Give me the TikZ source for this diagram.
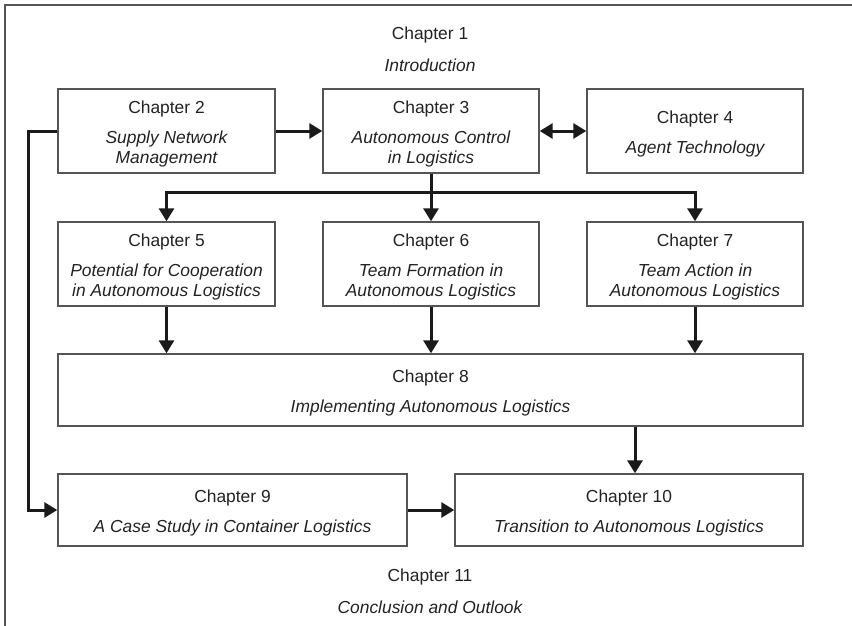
\documentclass[tikz,border=0pt]{standalone}
\usepackage{fontspec}
\setmainfont{Liberation Sans}
\usetikzlibrary{arrows.meta}
\definecolor{ink}{HTML}{222222}
\definecolor{rim}{HTML}{555555}
\definecolor{wire}{HTML}{1A1A1A}
\tikzset{
  chbox/.style={draw=rim, line width=1.4pt, inner sep=0pt},
  conn/.style={draw=wire, line width=3pt},
  tip/.style={-{Triangle[length=13pt,width=15pt]}},
  tips/.style={{Triangle[length=13pt,width=15pt]}-{Triangle[length=13pt,width=15pt]}},
  plain/.style={text=ink, align=center, font=\fontsize{17.4}{20}\selectfont, inner sep=0pt},
}
% chapter box: frame node #1 with its text node #1t, slightly below centre
\newcommand{\chapterbox}[5]{%
  \node[chbox, minimum width=#2, minimum height=#3] (#1) at (#4) {};
  \node[plain] (#1t) at ([yshift=-3pt]#1.center) {#5};
}
\begin{document}
\begin{tikzpicture}[x=1pt,y=-1pt]
\useasboundingbox (0,0) rectangle (852,626);
% frame
\draw[rim, line width=1.6pt] (5,626) -- (5,5) -- (852,5);

% headings outside the boxes
\node[plain] (t1) at (430,35) {Chapter 1};
\node[plain] (t1s) at (430,65) {\itshape Introduction};
\node[plain] (t11) at (430,577) {Chapter 11};
\node[plain] (t11s) at (430,607) {\itshape Conclusion and Outlook};

% chapter boxes
\chapterbox{c2}{217}{84}{166.5,131}
  {Chapter 2\\[10pt]\itshape Supply Network\\\itshape Management}
\chapterbox{c3}{216}{84}{431,131}
  {Chapter 3\\[10pt]\itshape Autonomous Control\\\itshape in Logistics}
\chapterbox{c4}{216}{84}{695,131}
  {Chapter 4\\[10pt]\itshape Agent Technology}

\chapterbox{c5}{217}{84}{166.5,264}
  {Chapter 5\\[10pt]\itshape Potential for Cooperation\\\itshape in Autonomous Logistics}
\chapterbox{c6}{216}{84}{431,264}
  {Chapter 6\\[10pt]\itshape Team Formation in\\\itshape Autonomous Logistics}
\chapterbox{c7}{216}{84}{695,264}
  {Chapter 7\\[10pt]\itshape Team Action in\\\itshape Autonomous Logistics}

\chapterbox{c8}{745}{72}{430.5,390}
  {Chapter 8\\[10pt]\itshape Implementing Autonomous Logistics}

\chapterbox{c9}{349}{72}{232.5,510}
  {Chapter 9\\[10pt]\itshape A Case Study in Container Logistics}
\chapterbox{c10}{348}{72}{629,510}
  {Chapter 10\\[10pt]\itshape Transition to Autonomous Logistics}

% connectors
\draw[conn, tip] (c2.east) -- (c3.west);
\draw[conn, tips] (c3.east) -- (c4.west);
\draw[conn, tip] (c2.west) -- ++(-29,0) |- (c9.west);

\coordinate (bus) at ([yshift=-19pt]c3.south);
\draw[conn, tip] (c3.south) -- (c6.north);
\draw[conn, tip] (bus) -| (c5.north);
\draw[conn, tip] (bus) -| (c7.north);

\draw[conn, tip] (c5.south) -- (c5.south |- c8.north);
\draw[conn, tip] (c6.south) -- (c6.south |- c8.north);
\draw[conn, tip] (c7.south) -- (c7.south |- c8.north);

\coordinate (c10in) at ([xshift=6pt]c10.north);
\draw[conn, tip] (c10in |- c8.south) -- (c10in);
\draw[conn, tip] (c9.east) -- (c10.west);
\end{tikzpicture}
\end{document}
